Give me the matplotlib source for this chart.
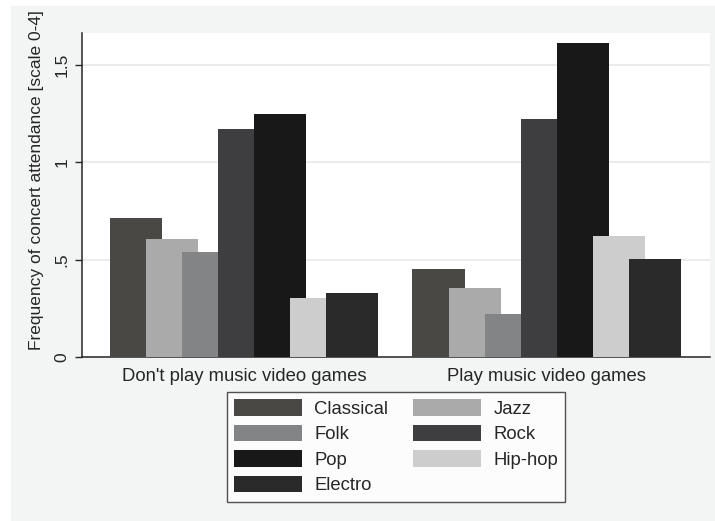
import matplotlib
matplotlib.use("Agg")
import matplotlib.pyplot as plt
from matplotlib.patches import Rectangle, Patch
import numpy as np

plt.rcParams['font.family'] = ['Liberation Sans', 'DejaVu Sans']

groups = ["Don't play music video games", "Play music video games"]
genres = ["Classical", "Jazz", "Folk", "Rock", "Pop", "Hip-hop", "Electro"]
classical = [0.711, 0.453]
jazz = [0.603, 0.356]
folk = [0.537, 0.222]
rock = [1.171, 1.222]
pop = [1.248, 1.608]
hiphop = [0.303, 0.620]
electro = [0.328, 0.501]
yticks = [0, 0.5, 1, 1.5]
ytick_labels = ["0", ".5", "1", "1.5"]

series = [classical, jazz, folk, rock, pop, hiphop, electro]
colors = ["#4a4845", "#a9aaa9", "#838485", "#3e3e40", "#181818", "#cdcdcd", "#2a2a2a"]
ink = "#262626"

W, H = 715, 521
fig = plt.figure(figsize=(W / 100, H / 100), dpi=100, facecolor="white")
bg = "#f3f5f4"
fig.patches.append(Rectangle((11 / W, 0), (W - 11) / W, (H - 6) / H,
                             transform=fig.transFigure, facecolor=bg,
                             edgecolor="none", zorder=-10))

ax = fig.add_axes([82 / W, (H - 357) / H, (710 - 82) / W, (357 - 33) / H])
ax.set_facecolor("white")

step = 1.0
width = 52 / 36
gsep = 302 / 36
centers = np.array([0.0, gsep])
offsets = (np.arange(len(genres)) - 3) * step
for i, (vals, c) in enumerate(zip(series, colors)):
    ax.bar(centers + offsets[i], vals, width=width, color=c,
           edgecolor="none", zorder=3 + i * 0.01)

ax.set_xlim(-4.5, gsep + 4.53)
ax.set_ylim(0, (357 - 33) / 195)
ax.set_yticks(yticks)
ax.set_yticklabels(ytick_labels, rotation=90, va="center", fontsize=12.5, color=ink)
ax.yaxis.grid(True, color="#e8e8e8", linewidth=1.2, zorder=0)
ax.set_axisbelow(True)
ax.tick_params(axis="y", length=5, width=1, color=ink, pad=4)
ax.set_xticks(centers)
ax.set_xticklabels(groups, fontsize=13.3, color=ink)
ax.tick_params(axis="x", length=0, pad=8)
for s in ["top", "right"]:
    ax.spines[s].set_visible(False)
for s in ["left", "bottom"]:
    ax.spines[s].set_color(ink)
    ax.spines[s].set_linewidth(1.1)
ax.set_ylabel("Frequency of concert attendance [scale 0-4]", fontsize=12.5, color=ink)
ax.yaxis.set_label_coords(-0.061, 0.547)

handles = [Patch(facecolor=c, edgecolor="none", label=g) for g, c in zip(genres, colors)]
order = [0, 2, 4, 6, 1, 3, 5]
leg = fig.legend([handles[i] for i in order], [genres[i] for i in order],
                 ncol=2, loc="upper left", bbox_to_anchor=(227 / W, 1 - 392 / H),
                 fontsize=13.3, frameon=True, fancybox=False,
                 handlelength=3.68, handleheight=1.0, handletextpad=0.65,
                 columnspacing=1.35, labelspacing=0.37, borderpad=0.4,
                 borderaxespad=0)
leg.get_frame().set_edgecolor(ink)
leg.get_frame().set_linewidth(1.0)
leg.get_frame().set_facecolor("white")
for t in leg.get_texts():
    t.set_color(ink)

fig.savefig("out.png", dpi=100, facecolor="white")
